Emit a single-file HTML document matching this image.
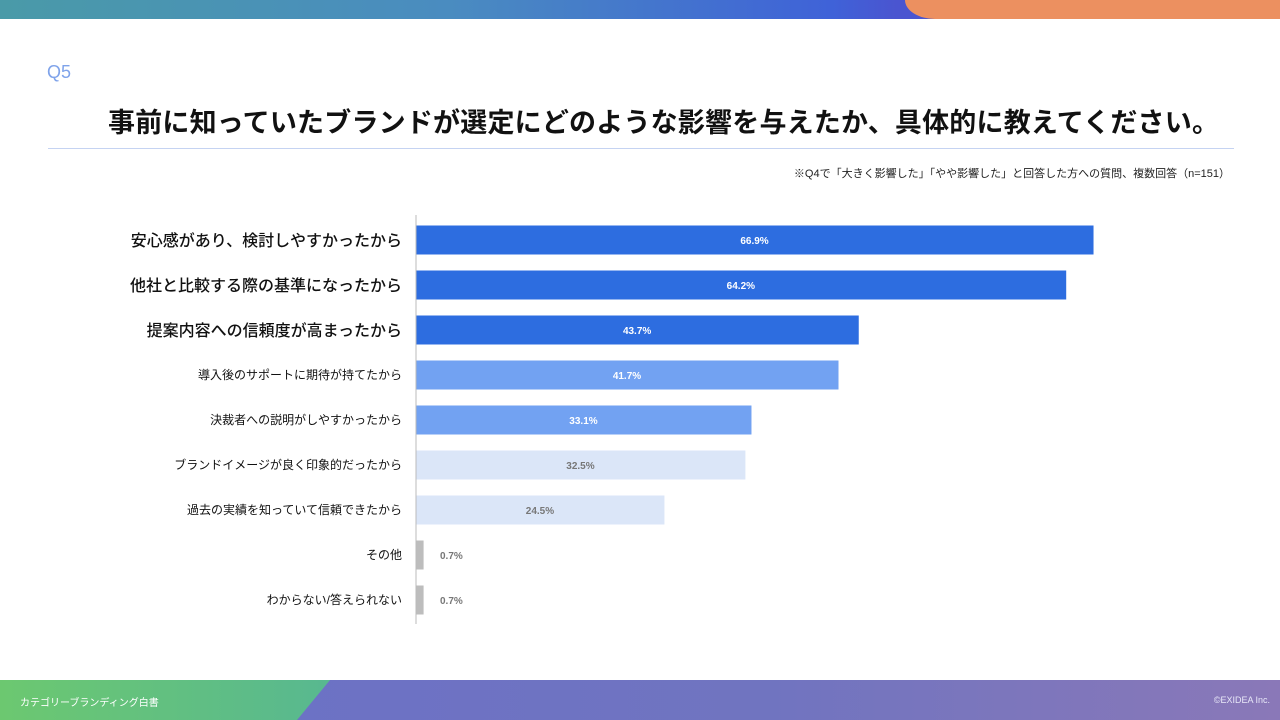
<!DOCTYPE html>
<html><head><meta charset="utf-8">
<style>
body{margin:0;width:1280px;height:720px;overflow:hidden;background:#fff;font-family:"Liberation Sans","Noto Sans CJK JP",sans-serif;position:relative}
.abs{position:absolute}
</style></head>
<body>
<div class="abs" style="left:0;top:0;width:1280px;height:19px;background:linear-gradient(90deg,#4a9aa8 0%,#4a8cc0 35%,#3f62d8 65%,#4a55d0 70%)"></div>
<div class="abs" style="left:905px;top:0;width:375px;height:19px;background:#ec9060;border-bottom-left-radius:30px 19px"></div>
<div class="abs" style="left:47px;top:62px;font-size:18px;color:#7fa3ea">Q5</div>
<div class="abs" style="left:108px;top:101px;font-size:27px;font-weight:bold;color:#111;letter-spacing:0.2px">事前に知っていたブランドが選定にどのような影響を与えたか、具体的に教えてください。</div>
<div class="abs" style="left:48px;top:148px;width:1186px;height:1px;background:#c5d3f2"></div>
<div class="abs" style="right:50px;top:165px;font-size:11px;color:#222">※Q4で「大きく影響した」「やや影響した」と回答した方への質問、複数回答（n=151）</div>
<svg class="abs" style="left:0;top:0" width="1280" height="720" id="chart"></svg>
<div class="abs" style="left:0;top:680px;width:1280px;height:40px;background:linear-gradient(90deg,#6a70c8,#7074c0 60%,#8a78b8)"></div>
<div class="abs" style="left:0;top:680px;width:330px;height:40px;background:linear-gradient(90deg,#6cc870,#58b890);clip-path:polygon(0 0,100% 0,90% 100%,0 100%)"></div>
<div class="abs" style="left:20px;top:694px;font-size:10px;color:#fff">カテゴリーブランディング白書</div>
<div class="abs" style="right:10px;top:695px;font-size:9px;color:#e8e8f8">©EXIDEA Inc.</div>
<script>
const categories=["安心感があり、検討しやすかったから","他社と比較する際の基準になったから","提案内容への信頼度が高まったから","導入後のサポートに期待が持てたから","決裁者への説明がしやすかったから","ブランドイメージが良く印象的だったから","過去の実績を知っていて信頼できたから","その他","わからない/答えられない"];
const values=[66.9,64.2,43.7,41.7,33.1,32.5,24.5,0.7,0.7];
const tiers=[0,0,0,1,1,2,2,3,3];
const fills=["#2d6de0","#72a2f2","#dbe6f8","#bdbdbd"];
const ns="http://www.w3.org/2000/svg";
const svg=document.getElementById('chart');
const x0=416,pxPer=10.12,y0=240,step=45,bh=29;
const xs=v=>v*pxPer;
const yc=i=>y0+i*step;
const ax=document.createElementNS(ns,'line');


ax.setAttribute('x1',x0);ax.setAttribute('x2',x0);ax.setAttribute('y1',215);ax.setAttribute('y2',624);ax.setAttribute('stroke','#bbb');ax.setAttribute('stroke-width',1);
svg.appendChild(ax);
values.forEach((v,i)=>{
 const t=tiers[i];
 const r=document.createElementNS(ns,'rect');
 
 
 r.setAttribute('x',x0+0.5);r.setAttribute('y',yc(i)-bh/2);r.setAttribute('width',xs(v));r.setAttribute('height',bh);r.setAttribute('fill',fills[t]);
 svg.appendChild(r);
 const lb=document.createElementNS(ns,'text');
 
 
 lb.setAttribute('x',402);lb.setAttribute('y',yc(i)+(t==0?6:4));lb.setAttribute('text-anchor','end');
 lb.setAttribute('font-size',t==0?16:12);lb.setAttribute('fill','#111');
 if(t==0)lb.setAttribute('font-weight','500');
 lb.textContent=categories[i];svg.appendChild(lb);
 const vl=document.createElementNS(ns,'text');
 
 
 const small=xs(v)<30;
 vl.setAttribute('x',small?x0+24:x0+xs(v)/2);vl.setAttribute('y',yc(i)+4);vl.setAttribute('text-anchor',small?'start':'middle');
 vl.setAttribute('font-size',10);vl.setAttribute('font-weight','bold');
 vl.setAttribute('fill',t<2?'#fff':'#777');
 vl.textContent=v.toFixed(1)+'%';svg.appendChild(vl);
});
</script>
</body></html>
